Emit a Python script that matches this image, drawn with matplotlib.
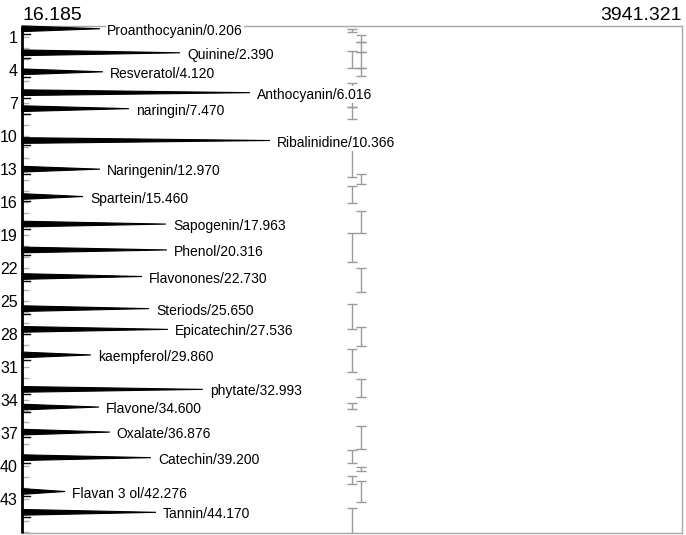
import matplotlib
matplotlib.use('Agg')
import matplotlib.pyplot as plt
from matplotlib.ticker import FixedLocator, MultipleLocator
from matplotlib import font_manager
import numpy as np

# ---- data ----
peak_names = ["Proanthocyanin", "Quinine", "Resveratol", "Anthocyanin", "naringin",
              "Ribalinidine", "Naringenin", "Spartein", "Sapogenin", "Phenol",
              "Flavonones", "Steriods", "Epicatechin", "kaempferol", "phytate",
              "Flavone", "Oxalate", "Catechin", "Flavan 3 ol", "Tannin"]
peak_times = [0.206, 2.390, 4.120, 6.016, 7.470, 10.366, 12.970, 15.460, 17.963, 20.316,
              22.730, 25.650, 27.536, 29.860, 32.993, 34.600, 36.876, 39.200, 42.276, 44.170]
peak_heights = [480, 956, 498, 1372, 652, 1491, 480, 379, 872, 878,
                730, 771, 884, 426, 1092, 474, 539, 783, 272, 813]

x_min, x_max = 16.185, 3941.321
t_end = 46.05
y_ticks = list(range(1, 44, 3))

# interval bars (start, end in minutes, column 0/1)
bar_lo = [0.23, 0.77, 1.43, 2.29, 3.80, 2.23, 5.14, 7.32, 11.05, 13.40, 14.50, 16.77,
          18.77, 21.95, 25.20, 27.30, 29.30, 32.05, 34.20, 36.30, 38.50, 40.05, 40.86,
          41.30, 43.77]
bar_hi = [0.50, 1.43, 2.29, 3.80, 4.50, 3.77, 7.32, 8.41, 13.68, 14.30, 16.05, 18.77,
          21.40, 24.10, 27.50, 29.05, 31.40, 33.70, 34.80, 38.40, 39.70, 40.40, 41.60,
          43.23, 46.05]
bar_col = [0, 1, 1, 1, 1, 0, 0, 0, 0, 1, 0, 1,
           0, 1, 0, 1, 0, 1, 0, 1, 0, 1, 0,
           1, 0]
col_x = [1979, 2032]

# ---- fonts ----
names = {f.name for f in font_manager.fontManager.ttflist}
if 'Liberation Sans Narrow' in names:
    narrow = ['Liberation Sans Narrow', 'DejaVu Sans']
    lab_fs, tick_fs = 12, 14
else:
    narrow = ['Liberation Sans', 'DejaVu Sans']
    lab_fs, tick_fs = 10, 11.5
normal = ['Liberation Sans', 'DejaVu Sans']

# ---- figure ----
W, H = 686, 535
fig = plt.figure(figsize=(W / 100, H / 100), dpi=100)
ax = fig.add_axes([22 / W, 1 - 533 / H, (682 - 22) / W, (533 - 26.5) / H])
ax.set_xlim(x_min, x_max)
ax.set_ylim(t_end, 0)

# baseline trace
ax.plot([x_min, x_min], [0, t_end], color='black', lw=2.0, zorder=3, clip_on=False,
        solid_capstyle='butt')

w = 0.26
for name, t, h in zip(peak_names, peak_times, peak_heights):
    ax.fill([x_min, h, x_min], [t - w, t, t + w], color='black', lw=0.8, zorder=3,
            clip_on=False)
    ax.plot([x_min, x_min + 50], [t + 0.45, t + 0.45], color='black', lw=1.0, zorder=3)
    ax.annotate(f"{name}/{t:.3f}", xy=(h, t), xytext=(5, -1.5), textcoords='offset points',
                ha='left', va='center', fontsize=lab_fs, family=narrow, color='black',
                bbox=dict(boxstyle='square,pad=0.1', fc='white', ec='none'), zorder=5,
                annotation_clip=False)

# interval bars
for lo, hi, c in zip(bar_lo, bar_hi, bar_col):
    ax.errorbar([col_x[c]], [(lo + hi) / 2], yerr=[[(hi - lo) / 2], [(hi - lo) / 2]],
                fmt='none', ecolor='#9a9a9a', elinewidth=1.0, capsize=3.5, capthick=1.0,
                zorder=2)

# axes styling
for s in ['top', 'right', 'bottom']:
    ax.spines[s].set_color('#a8a8a8')
    ax.spines[s].set_linewidth(1.0)
ax.spines['left'].set_visible(False)

ax.xaxis.set_visible(False)
ax.yaxis.set_major_locator(FixedLocator(y_ticks))
ax.yaxis.set_minor_locator(MultipleLocator(1))
ax.tick_params(axis='y', which='both', direction='in', color='#b0b0b0', width=1.0,
               length=5, pad=3)
ax.set_yticklabels([str(v) for v in y_ticks], fontsize=tick_fs, family=narrow)

# range labels above the frame
fig.text(22 / W, 1 - 20 / H, f"{x_min:.3f}", ha='left', va='baseline', fontsize=14,
         family=normal)
fig.text(682 / W, 1 - 20 / H, f"{x_max:.3f}", ha='right', va='baseline', fontsize=14,
         family=normal)

fig.savefig('out.png', dpi=100)
